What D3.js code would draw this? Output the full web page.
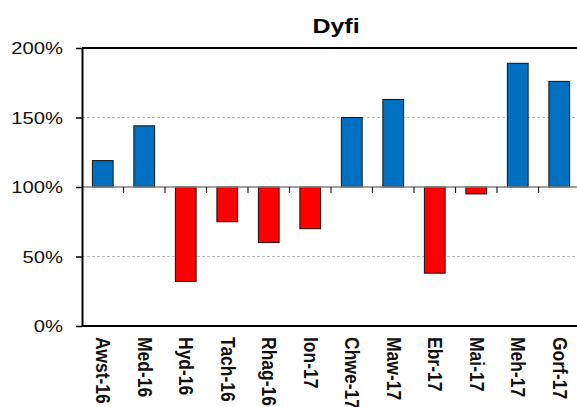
<!DOCTYPE html>
<html>
<head>
<meta charset="utf-8">
<script src="https://cdn.jsdelivr.net/npm/d3@7"></script>
<style>
  body { margin: 0; background: #fff; }
  svg { display: block; font-family: "Liberation Sans", Arial, sans-serif; }
</style>
</head>
<body>
<div id="chart"></div>
<script>
// months (Welsh) and value as % of baseline
const months = ["Awst-16", "Med-16", "Hyd-16", "Tach-16", "Rhag-16", "Ion-17",
  "Chwe-17", "Maw-17", "Ebr-17", "Mai-17", "Meh-17", "Gorf-17"];
const values = [119, 144, 32, 75, 60, 70, 150, 163, 38, 95, 189, 176];
const yTicks = [0, 50, 100, 150, 200];
const baseline = 100;

const width = 577, height = 407;
const margin = {top: 48, right: -3, bottom: 81, left: 82};
const stretch = 1.19; // the original picture is a bit wider than tall

const svg = d3.select("#chart").append("svg")
  .attr("width", width)
  .attr("height", height);

const x = d3.scaleBand()
  .domain(months)
  .range([margin.left, width - margin.right])
  .paddingInner(0.5)
  .paddingOuter(0.25);

const y = d3.scaleLinear()
  .domain([0, 200])
  .range([height - margin.bottom, margin.top]);

// dashed grid
svg.append("g")
  .selectAll("line")
  .data(yTicks.filter(d => d != 0 && d != 200 && d != baseline))
  .enter().append("line")
  .attr("x1", margin.left)
  .attr("x2", width)
  .attr("y1", d => y(d))
  .attr("y2", d => y(d))
  .attr("stroke", "#bbb")
  .attr("stroke-dasharray", "3,2")
  .attr("stroke-width", 1);

// bars, drawn from the 100% line
svg.append("g")
  .selectAll("rect")
  .data(values)
  .enter().append("rect")
  .attr("x", (d, i) => x(months[i]))
  .attr("width", x.bandwidth())
  .attr("y", d => y(Math.max(d, baseline)))
  .attr("height", d => Math.abs(y(d) - y(baseline)))
  .attr("fill", d => d >= baseline ? "#0070C0" : "#FF0000")
  .attr("stroke", "#111")
  .attr("stroke-width", 1);

// 100% line with category ticks
svg.append("line")
  .attr("x1", margin.left)
  .attr("x2", width)
  .attr("y1", y(baseline))
  .attr("y2", y(baseline))
  .attr("stroke", "#808080")
  .attr("stroke-width", 1.5);

const step = x.step();
svg.append("g")
  .selectAll("line")
  .data(months.slice(1))
  .enter().append("line")
  .attr("x1", d => x(d) - (step - x.bandwidth()) / 2)
  .attr("x2", d => x(d) - (step - x.bandwidth()) / 2)
  .attr("y1", y(baseline))
  .attr("y2", y(baseline) + 6)
  .attr("stroke", "#222")
  .attr("stroke-width", 1.2);

// frame: top, bottom
svg.append("line")
  .attr("x1", margin.left).attr("x2", width)
  .attr("y1", y(200)).attr("y2", y(200))
  .attr("stroke", "#000").attr("stroke-width", 2);
svg.append("line")
  .attr("x1", margin.left).attr("x2", width)
  .attr("y1", y(0)).attr("y2", y(0))
  .attr("stroke", "#000").attr("stroke-width", 2);

// y axis
const yAxis = svg.append("g")
  .attr("transform", "translate(" + margin.left + ",0)")
  .call(d3.axisLeft(y).tickValues(yTicks).tickFormat(d => d + "%").tickSize(6).tickSizeOuter(0));
yAxis.select(".domain").attr("stroke", "#000").attr("stroke-width", 2);
yAxis.selectAll(".tick line").attr("stroke", "#000").attr("stroke-width", 1.5);
yAxis.selectAll(".tick text")
  .attr("x", null)
  .attr("dy", "0.35em")
  .attr("transform", "translate(-19,0) scale(" + stretch + ",1)")
  .attr("font-size", 17)
  .attr("fill", "#111")
  .style("font-family", "Liberation Sans, Arial, sans-serif");

// x labels, rotated to read downwards
svg.append("g")
  .selectAll("text")
  .data(months)
  .enter().append("text")
  .attr("transform", d => "translate(" + (x(d) + x.bandwidth() / 2 + 1) + "," + (y(0) + 11) +
    ") scale(" + stretch + ",1) rotate(90)")
  .attr("dy", "0.35em")
  .attr("font-size", 17.5)
  .attr("font-weight", "bold")
  .attr("fill", "#111")
  .text(d => d);

// title
svg.append("text")
  .attr("transform", "translate(336,33) scale(" + stretch + ",1)")
  .attr("text-anchor", "middle")
  .attr("font-size", 21)
  .attr("font-weight", "bold")
  .attr("fill", "#000")
  .text("Dyfi");
</script>
</body>
</html>
